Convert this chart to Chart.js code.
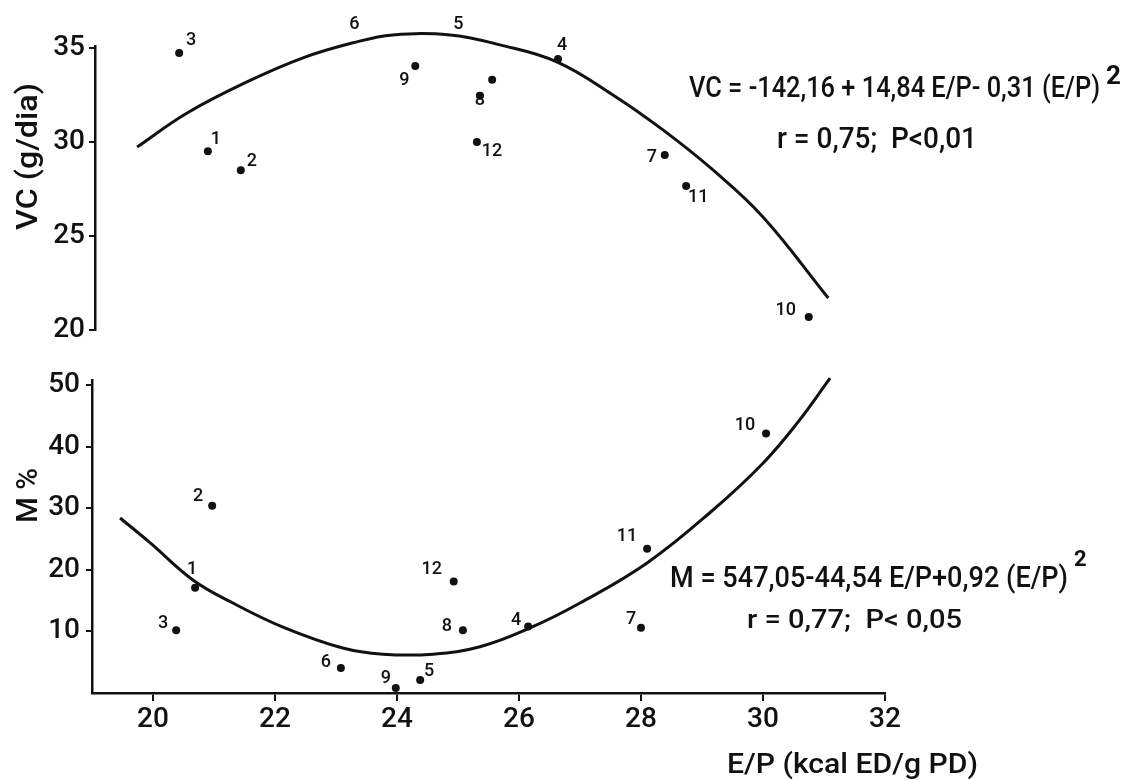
<!DOCTYPE html>
<html>
<head>
<meta charset="utf-8">
<script src="https://cdn.jsdelivr.net/npm/chart.js@4.4.1/dist/chart.umd.min.js"></script>
<style>
  body { margin: 0; background: #fff; }
  #wrap { position: relative; width: 1124px; height: 780px; }
  canvas { position: absolute; left: 0; top: 0; }
</style>
</head>
<body>
<div id="wrap">
  <canvas id="vcChart" width="1124" height="780"></canvas>
  <canvas id="mChart" width="1124" height="780"></canvas>
</div>
<script>
// Upper panel: VC (g/dia) per treatment (last entry is an unnumbered dot)
const vcLabels = ["1", "2", "3", "4", "5", "6", "7", "8", "9", "10", "11", "12", ""];
const vcEP     = [20.90, 21.44, 20.43, 26.64, 24.89, 23.30, 28.39, 25.36, 24.30, 30.75, 28.74, 25.31, 25.56];
const vcValues = [29.5, 28.5, 34.73, 34.41, 35.37, 35.32, 29.31, 32.45, 34.04, 20.69, 27.66, 30.0, 33.3];

// fitted curve
const vcCurveEP = [19.74, 20.56, 21.54, 22.46, 23.28, 23.93, 24.87, 25.69, 26.62, 27.54, 28.36, 29.18, 30.00, 31.07];
const vcCurve   = [29.73, 31.54, 33.19, 34.47, 35.27, 35.69, 35.69, 35.16, 34.26, 32.50, 30.64, 28.51, 26.01, 21.70];

// Lower panel: M % per treatment
const mLabels = ["1", "2", "3", "4", "5", "6", "7", "8", "9", "10", "11", "12"];
const mEP     = [20.69, 20.97, 20.38, 26.15, 24.38, 23.08, 28.00, 25.08, 23.98, 30.05, 28.10, 24.93];
const mValues = [17.1, 30.4, 10.2, 10.8, 2.1, 4.05, 10.6, 10.2, 0.8, 42.1, 23.4, 18.1];

const mCurveEP = [19.46, 19.95, 20.66, 21.31, 22.13, 23.11, 23.77, 24.59, 25.36, 26.18, 27.00, 28.10, 29.18, 30.00, 30.56, 31.10];
const mCurve   = [28.4, 24.4, 18.3, 14.6, 10.7, 7.3, 6.3, 6.3, 7.5, 10.55, 14.6, 21.1, 29.7, 37.3, 43.8, 51.1];

// tick labels
const epTicks = [20, 22, 24, 26, 28, 30, 32];
const vcTicks = [20, 25, 30, 35];
const mTicks  = [10, 20, 30, 40, 50];

// where each number sits next to its dot (px)
const vcLabelOffsets = [[8,-12],[11,-9],[12,-12],[4,-13],[7,-16],[0,-17],[-13,3],[0,5],[-11,15],[-23,-7],[12,12],[15,10],[0,0]];
const mLabelOffsets  = [[-3,-18],[-14,-9],[-13,-7],[-12,-6],[9,-9],[-15,-6],[-10,-8],[-16,-4],[-10,-10],[-21,-8],[-20,-12],[-22,-12]];

const FONT = "Roboto, 'DejaVu Sans', sans-serif";
const INK = "#111";

const toPoints = (xs, ys) => xs.map((x, i) => ({ x: x, y: ys[i] }));

// draw text squeezed/stretched to a given width
function fitText(ctx, text, x, y, width, size, angle, weight) {
    ctx.save();
    ctx.font = (weight || "500") + " " + size + "px " + FONT;
    ctx.fillStyle = INK;
    ctx.textAlign = "left";
    ctx.textBaseline = "alphabetic";
    const natural = ctx.measureText(text).width;
    ctx.translate(x, y);
    if (angle) ctx.rotate(angle);
    if (width) ctx.scale(width / natural, 1);
    ctx.fillText(text, 0, 0);
    ctx.restore();
}

function pointLabels(labels, offsets) {
    return {
        id: "pointLabels",
        afterDatasetsDraw(chart) {
            const ctx = chart.ctx;
            const meta = chart.getDatasetMeta(1);
            ctx.save();
            ctx.font = "500 18px " + FONT;
            ctx.fillStyle = INK;
            ctx.textAlign = "center";
            ctx.textBaseline = "middle";
            meta.data.forEach((pt, i) => {
                if (!labels[i]) return;
                ctx.fillText(labels[i], pt.x + offsets[i][0], pt.y + offsets[i][1]);
            });
            ctx.restore();
        }
    };
}

function curveSet(xs, ys) {
    return {
        data: toPoints(xs, ys),
        showLine: true,
        borderColor: INK,
        borderWidth: 3,
        pointRadius: 0,
        tension: 0.4,
        clip: false
    };
}

function dotSet(xs, ys) {
    return {
        data: toPoints(xs, ys),
        pointRadius: 4,
        backgroundColor: INK,
        borderWidth: 0,
        clip: false
    };
}

function yAxis(min, max, ticks, width, pad) {
    return {
        min: min,
        max: max,
        afterFit: (a) => { a.width = width; },
        afterBuildTicks: (a) => { a.ticks = ticks.map((v) => ({ value: v })); },
        border: { display: true, color: INK, width: 2.5 },
        grid: { drawOnChartArea: false, drawTicks: true, tickLength: 6, color: INK, lineWidth: 2 },
        ticks: { color: INK, font: { family: FONT, size: 28, weight: "500" }, padding: pad }
    };
}

// Upper chart
new Chart(document.getElementById("vcChart"), {
    type: "scatter",
    data: { datasets: [curveSet(vcCurveEP, vcCurve), dotSet(vcEP, vcValues)] },
    options: {
        responsive: false,
        animation: false,
        layout: { padding: { left: 0, right: 239, top: 46, bottom: 450 } },
        plugins: { legend: { display: false }, tooltip: { enabled: false } },
        scales: {
            x: { type: "linear", display: false, min: 19.05, max: 32 },
            y: yAxis(20, 35.1, vcTicks, 95, 4)
        }
    },
    plugins: [pointLabels(vcLabels, vcLabelOffsets), {
        id: "vcText",
        afterDraw(chart) {
            const ctx = chart.ctx;
            fitText(ctx, "VC (g/dia)", 37, 230, 147, 30, -Math.PI / 2);
            fitText(ctx, "VC = -142,16 + 14,84 E/P- 0,31 (E/P)", 689, 97, 411, 29);
            fitText(ctx, "2", 1106, 84, null, 26, 0, "bold");
            fitText(ctx, "r = 0,75;  P<0,01", 777, 148, 200, 29);
        }
    }]
});

// Lower chart
new Chart(document.getElementById("mChart"), {
    type: "scatter",
    data: { datasets: [curveSet(mCurveEP, mCurve), dotSet(mEP, mValues)] },
    options: {
        responsive: false,
        animation: false,
        layout: { padding: { left: 0, right: 239, top: 380, bottom: 0 } },
        plugins: { legend: { display: false }, tooltip: { enabled: false } },
        scales: {
            x: {
                type: "linear",
                min: 19,
                max: 32,
                afterFit: (a) => { a.height = 87; },
                afterBuildTicks: (a) => { a.ticks = epTicks.map((v) => ({ value: v })); },
                border: { display: true, color: INK, width: 2.5 },
                grid: { drawOnChartArea: false, drawTicks: true, tickLength: 8, color: INK, lineWidth: 2 },
                ticks: { color: INK, font: { family: FONT, size: 28, weight: "500" }, padding: 2, maxRotation: 0 }
            },
            y: yAxis(0, 50.8, mTicks, 92, 6)
        }
    },
    plugins: [pointLabels(mLabels, mLabelOffsets), {
        id: "mText",
        afterDraw(chart) {
            const ctx = chart.ctx;
            fitText(ctx, "M %", 37, 523, 55, 30, -Math.PI / 2);
            fitText(ctx, "M = 547,05-44,54 E/P+0,92 (E/P)", 670, 587, 398, 30);
            fitText(ctx, "2", 1074, 566, null, 22, 0, "bold");
            fitText(ctx, "r = 0,77;  P< 0,05", 747, 628, 215, 26);
            fitText(ctx, "E/P (kcal ED/g PD)", 727, 773, 251, 28);
        }
    }]
});
</script>
</body>
</html>
